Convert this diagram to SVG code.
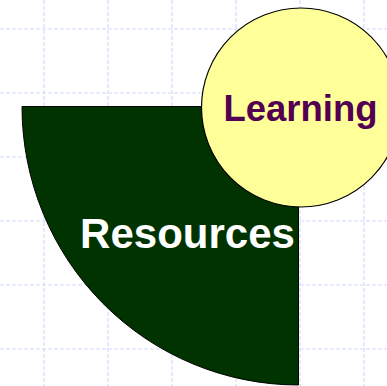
<svg xmlns="http://www.w3.org/2000/svg" width="387" height="386" viewBox="0 0 387 386">
  <style>
    .grid line { stroke: #d0dcfa; stroke-width: 1.2; stroke-dasharray: 4 2; }
    .lbl { font-family: "Liberation Sans", Arial, sans-serif; font-weight: bold; text-anchor: middle; }
  </style>
  <rect width="387" height="386" fill="#ffffff"/>
  <g class="grid">
    <line x1="44" y1="0" x2="44" y2="386"/>
    <line x1="108" y1="0" x2="108" y2="386"/>
    <line x1="172" y1="0" x2="172" y2="386"/>
    <line x1="236" y1="0" x2="236" y2="386"/>
    <line x1="300" y1="0" x2="300" y2="386"/>
    <line x1="364" y1="0" x2="364" y2="386"/>
    <line x1="0" y1="29" x2="387" y2="29"/>
    <line x1="0" y1="93" x2="387" y2="93"/>
    <line x1="0" y1="157" x2="387" y2="157"/>
    <line x1="0" y1="221" x2="387" y2="221"/>
    <line x1="0" y1="285" x2="387" y2="285"/>
    <line x1="0" y1="349" x2="387" y2="349"/>
  </g>
  <g id="resources">
    <path d="M22,106.5 H298.5 V385 A276.5,278.5 0 0 1 22,106.5 Z" fill="#003300" stroke="#000000" stroke-width="1"/>
  </g>
  <g id="learning">
    <circle cx="301" cy="107.5" r="99.5" fill="#ffff99" stroke="#000000" stroke-width="1.2"/>
    <text class="lbl" x="300.5" y="121" font-size="36.5" fill="#520052">Learning</text>
  </g>
  <text class="lbl" x="187.5" y="248" font-size="42" fill="#ffffff">Resources</text>
</svg>
